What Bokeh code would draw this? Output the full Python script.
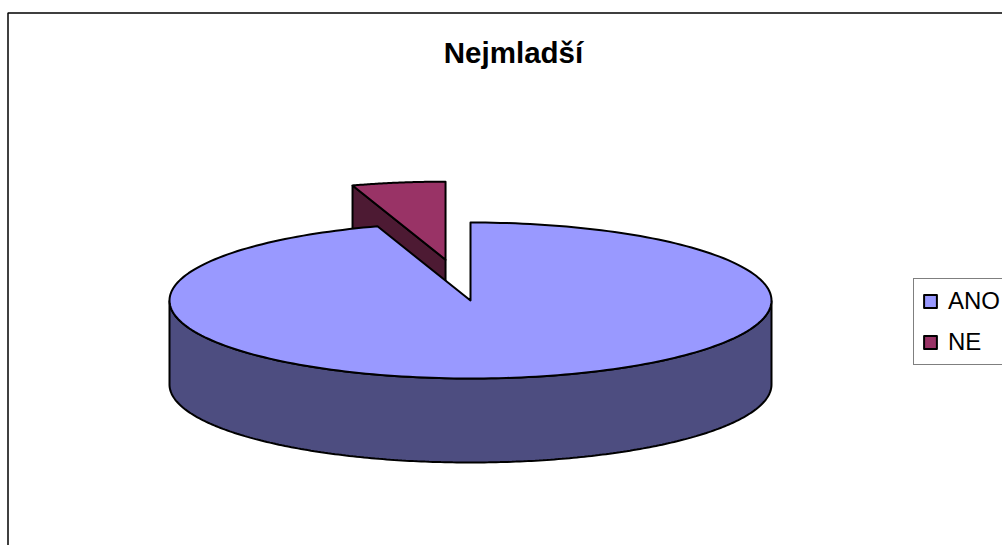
import numpy as np
from bokeh.embed import file_html
from bokeh.resources import INLINE
from bokeh.plotting import figure
from bokeh.models import Range1d, Legend, LegendItem, Label

title = "Nejmladší"
categories = ["ANO", "NE"]
values = [95, 5]
top_colors = ["#9999FF", "#993366"]
side_colors = ["#4D4D80", "#4D1A33"]

W, H = 1002, 545
cx, cy, rx, ry, depth = 470, 300, 301, 78, 84
explode = 0.53
LW = 2

p = figure(width=W, height=H, output_backend="svg", toolbar_location=None,
           x_range=Range1d(0, W), y_range=Range1d(H, 0),
           min_border=0, outline_line_color=None, background_fill_color="white")
p.axis.visible = False
p.grid.visible = False

fractions = np.array(values) / sum(values)
a_start = 0.0
a_end_ano = 2 * np.pi * fractions[0]


def arc(start, end, ox=0.0, oy=0.0, n=240):
    t = np.linspace(start, end, n)
    return ox + cx + rx * np.sin(t), oy + cy - ry * np.cos(t)


mid = a_end_ano + (2 * np.pi - a_end_ano) / 2
ox, oy = explode * rx * np.sin(mid), -explode * ry * np.cos(mid)
ax, ay = arc(a_end_ano, 2 * np.pi, ox, oy, 60)
tipx, tipy = cx + ox, cy + oy
side_x = [ax[0], ax[0], tipx, tipx]
side_y = [ay[0], ay[0] + depth, tipy + depth, tipy]
p.patch(side_x, side_y, fill_color=side_colors[1], line_color="black", line_width=LW)
ne = p.patch(list(ax) + [tipx], list(ay) + [tipy], fill_color=top_colors[1],
             line_color="black", line_width=LW, line_join="round")

sx, sy = arc(np.pi / 2, 3 * np.pi / 2)
p.patch(list(sx) + list(sx[::-1]), list(sy) + list(sy[::-1] + depth),
        fill_color=side_colors[0], line_color="black", line_width=LW)

tx, ty = arc(a_start, a_end_ano)
ano = p.patch(list(tx) + [cx], list(ty) + [cy], fill_color=top_colors[0],
              line_color="black", line_width=LW, line_join="round")

p.line([7.5, 7.5, W], [H, 12.5, 12.5], line_color="black", line_width=1.5)

p.add_layout(Label(x=513, y=52, text=title, text_align="center", text_baseline="middle",
                   text_font="Liberation Sans", text_font_style="bold",
                   text_font_size="29.5px", text_color="black"))

legend = Legend(items=[LegendItem(label=categories[0], renderers=[ano]),
                       LegendItem(label=categories[1], renderers=[ne])],
                location=(913, 180), orientation="vertical", margin=0, padding=8,
                spacing=13, glyph_width=16, glyph_height=16, label_standoff=10,
                label_height=24, label_text_font="Liberation Sans",
                label_text_font_size="24px", label_text_color="black",
                border_line_color="black", border_line_width=1,
                background_fill_color="white", background_fill_alpha=1)
p.add_layout(legend, "center")

open("out.html", "w").write(file_html(p, INLINE))
